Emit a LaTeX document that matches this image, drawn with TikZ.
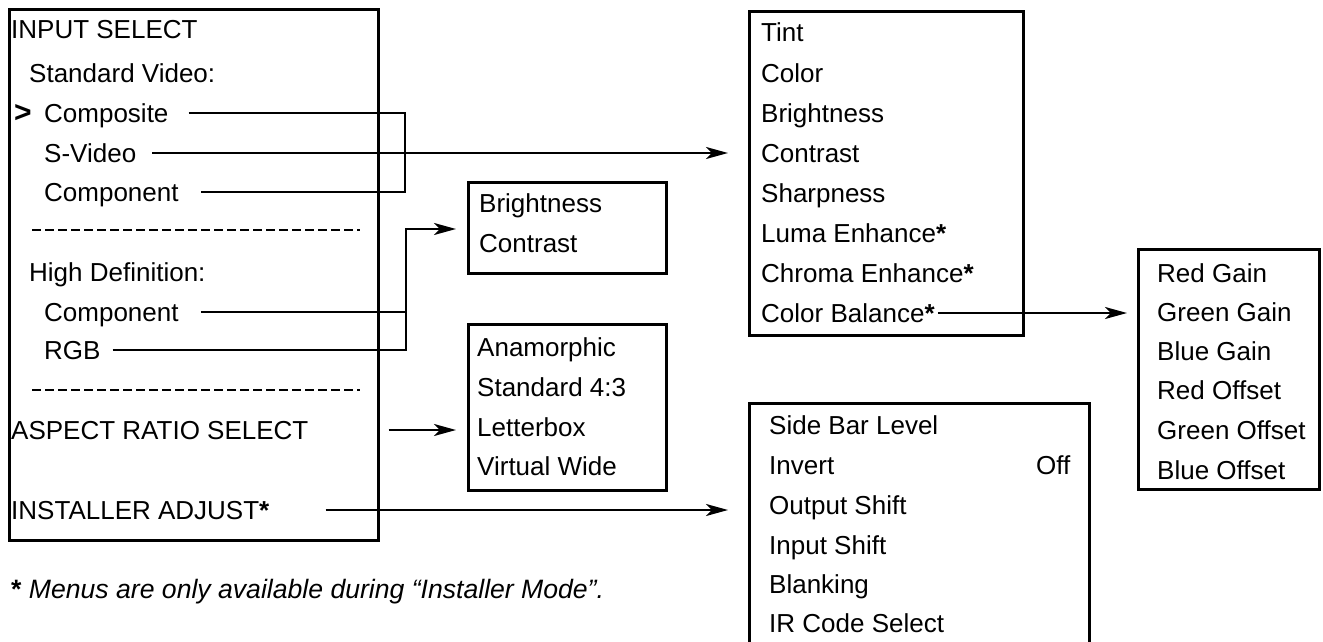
\documentclass[tikz,border=0pt]{standalone}
\usepackage{fontspec}
\setmainfont{Liberation Sans}
\usetikzlibrary{arrows.meta,calc}
\begin{document}
\begin{tikzpicture}[x=1pt,y=-1pt,
  box/.style={draw, line width=2.7pt, anchor=north west, inner sep=0pt},
  txt/.style={anchor=west, inner sep=0pt, text height=18pt, text depth=0pt, font=\fontsize{26}{30}\selectfont},
  conn/.style={line width=2.4pt},
  arr/.style={conn, -{Stealth[length=22pt,width=12pt,inset=6pt]}},
  sepline/.style={line width=2pt, dash pattern=on 8.5pt off 4.5pt}]
\useasboundingbox (0,0) rectangle (1323,642);

% main menu
\node[box, minimum width=369pt, minimum height=531pt] (menu) at (8,8) {};
\node[txt] (inp) at (11,30) {INPUT SELECT};
\node[txt] (std) at (29,74) {Standard Video:};
\node[txt, font=\fontsize{30}{30}\selectfont\bfseries] (sel) at (14,113) {>};
\node[txt] (comp) at (44,113) {Composite};
\node[txt] (svid) at (44,153) {S-Video};
\node[txt] (cmpt) at (44,192) {Component};
\draw[sepline] (32,230) -- (360,230);
\node[txt] (hd) at (29,272) {High Definition:};
\node[txt] (hdc) at (44,312) {Component};
\node[txt] (rgb) at (44,350) {RGB};
\draw[sepline] (32,390) -- (360,390);
\node[txt] (asp) at (11,430) {ASPECT RATIO SELECT};
\node[txt] (inst) at (11,510) {INSTALLER ADJUST\textbf{*}};

% picture menu
\node[box, minimum width=274pt, minimum height=324pt] (pic) at (748,10) {};
\node[txt] (p1) at (761,33) {Tint};
\node[txt] (p2) at (761,73) {Color};
\node[txt] (p3) at (761,113) {Brightness};
\node[txt] (p4) at (761,153) {Contrast};
\node[txt] (p5) at (761,193) {Sharpness};
\node[txt] (p6) at (761,233) {Luma Enhance\textbf{*}};
\node[txt] (p7) at (761,273) {Chroma Enhance\textbf{*}};
\node[txt] (cb) at (761,313) {Color Balance\textbf{*}};

% RGB HD menu
\node[box, minimum width=198pt, minimum height=91pt] (bri) at (467,181) {};
\node[txt] (b1) at (479,203) {Brightness};
\node[txt] (b2) at (479,243) {Contrast};

% aspect menu
\node[box, minimum width=198pt, minimum height=166pt] (aspb) at (467,323) {};
\node[txt] (a1) at (477,347) {Anamorphic};
\node[txt] (a2) at (477,387) {Standard 4:3};
\node[txt] (a3) at (477,427) {Letterbox};
\node[txt] (a4) at (477,466) {Virtual Wide};

% color balance menu
\node[box, minimum width=181pt, minimum height=240pt] (bal) at (1137,248) {};
\node[txt] (r1) at (1157,273) {Red Gain};
\node[txt] (r2) at (1157,312) {Green Gain};
\node[txt] (r3) at (1157,351) {Blue Gain};
\node[txt] (r4) at (1157,390) {Red Offset};
\node[txt] (r5) at (1157,430) {Green Offset};
\node[txt] (r6) at (1157,470) {Blue Offset};

% installer menu
\node[box, minimum width=340pt, minimum height=270pt] (ins) at (748,402) {};
\node[txt] (i1) at (769,425) {Side Bar Level};
\node[txt] (i2) at (769,465) {Invert};
\node[txt] (off) at (1036,465) {Off};
\node[txt] (i3) at (769,505) {Output Shift};
\node[txt] (i4) at (769,545) {Input Shift};
\node[txt] (i5) at (769,584) {Blanking};
\node[txt] (i6) at (769,623) {IR Code Select};

% footnote
\node[txt, font=\fontsize{26.6}{30}\selectfont] (note) at (11,589) {\textbf{*} \textit{Menus are only available during “Installer Mode”.}};

% connectors
\coordinate (j1) at (405,0);
\draw[conn] ([xshift=20pt]comp.east) -| (j1 |- cmpt.east) -- ([xshift=22pt]cmpt.east);

\coordinate (svs) at ([xshift=16pt]svid.east);
\coordinate (tt) at ([xshift=-20pt]pic.west);
\draw[arr] (svs) -- (svs -| tt);

\coordinate (j2) at (406,229);
\coordinate (bt) at ([xshift=-11pt]bri.west);
\coordinate (hds) at ([xshift=22pt]hdc.east);
\draw[conn] (hds) -- (hds -| j2);
\draw[arr] ([xshift=12pt]rgb.east) -| (j2) -- (j2 -| bt);

\coordinate (ass) at ([xshift=80pt]asp.east);
\coordinate (at) at ([xshift=-11pt]aspb.west);
\draw[arr] (ass) -- (ass -| at);

\coordinate (ist) at ([xshift=56pt]inst.east);
\coordinate (it) at ([xshift=-20pt]ins.west);
\draw[arr] (ist) -- (ist -| it);

\coordinate (cbs) at ([xshift=3pt]cb.east);
\coordinate (ct) at ([xshift=-10pt]bal.west);
\draw[arr] (cbs) -- (cbs -| ct);
\end{tikzpicture}
\end{document}
